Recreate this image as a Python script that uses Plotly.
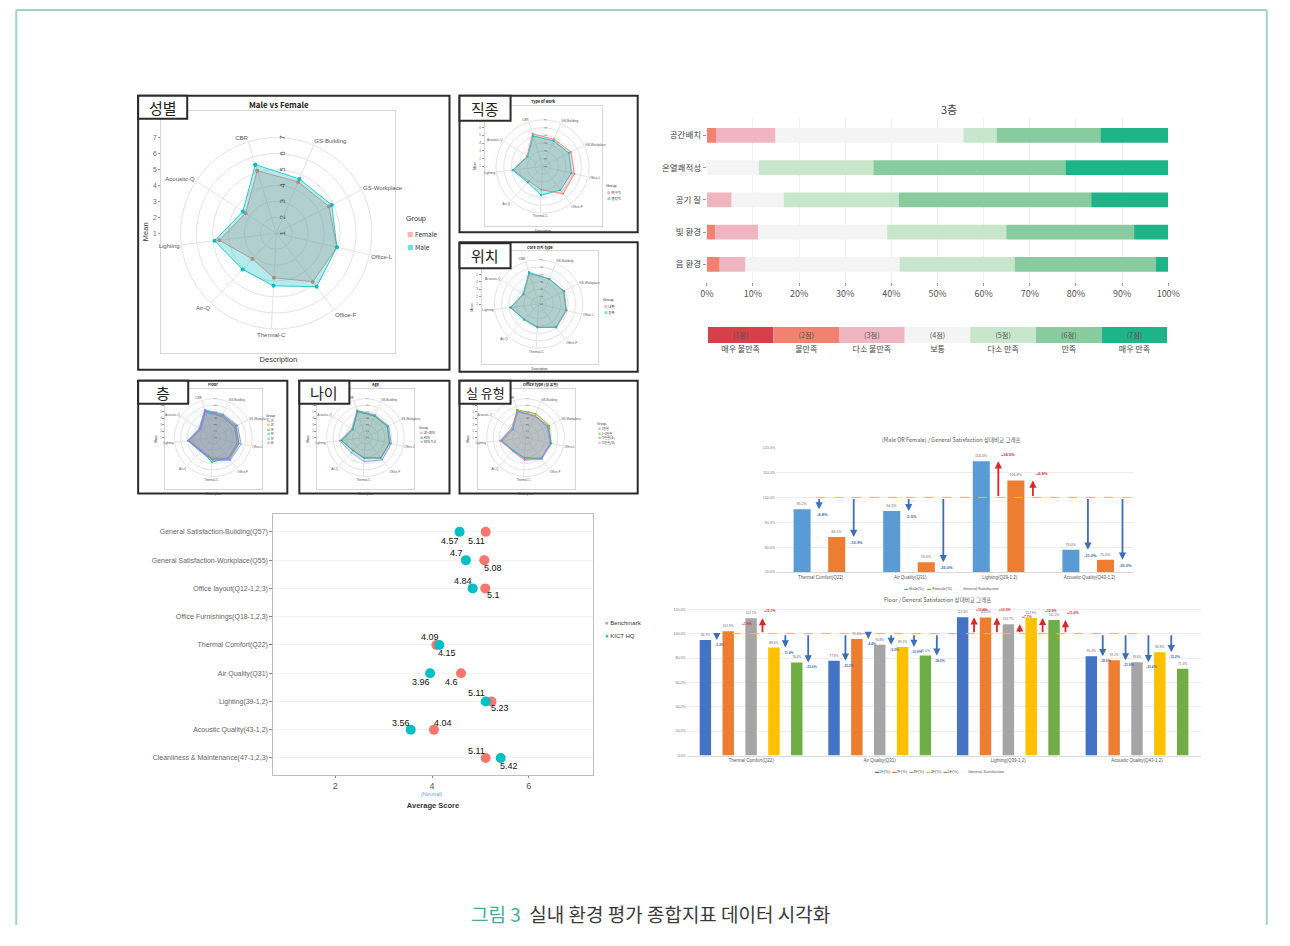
import numpy as np
import plotly.graph_objects as go

# the page body keeps an 8px margin; the figure sits at (8, 8).
# The photographed page comes out slightly compressed horizontally, so x positions are pre-compensated.
OFF = 8
FW, FH = 1272, 920
SX, AX = 0.984, 7.1


def X(px):
    return ((px - AX) / SX - OFF) / FW


def Y(py):
    return 1 - (py - OFF) / FH


FONT = "Liberation Sans, Noto Sans CJK KR, sans-serif"
KFONT = "Noto Sans CJK KR, Liberation Sans, sans-serif"

# ---------------- data ----------------
stack_title = "3층"
stack_cats = ["공간배치", "온열쾌적성", "공기 질", "빛 환경", "음 환경"]
score_labels = ["(1점)", "(2점)", "(3점)", "(4점)", "(5점)", "(6점)", "(7점)"]
score_desc = ["매우 불만족", "불만족", "다소 불만족", "보통", "다소 만족", "만족", "매우 만족"]
pct_1 = [0.0, 0.0, 0.0, 0.0, 0.0]
pct_2 = [2.0, 0.0, 0.0, 1.8, 2.8]
pct_3 = [12.9, 0.0, 5.4, 9.3, 5.6]
pct_4 = [40.7, 11.3, 11.3, 28.0, 33.4]
pct_5 = [7.2, 24.8, 24.9, 25.8, 24.9]
pct_6 = [22.5, 41.6, 41.7, 27.7, 30.6]
pct_7 = [14.7, 22.3, 16.7, 7.4, 2.7]
pct_ticks = [0, 10, 20, 30, 40, 50, 60, 70, 80, 90, 100]

dot_cats = ["General Satisfaction-Building(Q57)", "General Satisfaction-Workplace(Q55)",
            "Office layout(Q12-1,2,3)", "Office Furnishings(Q18-1,2,3)", "Thermal Comfort(Q22)",
            "Air Quality(Q31)", "Lighting(39-1,2)", "Acoustic Quality(43-1,2)",
            "Cleanliness & Maintenance(47-1,2,3)"]
dot_series = ["Benchmark", "KICT HQ"]
dot_bench = [5.11, 5.08, 5.1, None, 4.09, 4.6, 5.23, 4.04, 5.11]
dot_kict = [4.57, 4.7, 4.84, None, 4.15, 3.96, 5.11, 3.56, 5.42]
dot_ticks = [2, 4, 6]
neutral_score = 4

mf_title = "(Male OR Female) / General Satisfaction 상대비교 그래프"
mf_cats = ["Thermal Comfort(Q22)", "Air Quality(Q31)", "Lighting(Q29-1,2)", "Acoustic Quality(Q43-1,2)"]
mf_names = ["Male(%)", "Female(%)"]
mf_male = [95.2, 94.5, 114.5, 79.0]
mf_female = [84.1, 74.0, 106.8, 75.0]
general_satisfaction = 100.0
gs_name = "General Satisfaction"

fl_title = "Floor / General Satisfaction 상대비교 그래프"
fl_cats = ["Thermal Comfort(Q22)", "Air Quality(Q31)", "Lighting(Q39-1,2)", "Acoustic Quality(Q43-1,2)"]
fl_names = ["1F(%)", "2F(%)", "3F(%)", "4F(%)", "5F(%)"]
fl_1f = [94.7, 77.8, 113.4, 81.4]
fl_2f = [101.9, 95.6, 113.3, 78.1]
fl_3f = [112.7, 90.8, 107.7, 76.6]
fl_4f = [88.6, 89.1, 112.9, 84.8]
fl_5f = [76.4, 82.0, 111.2, 71.3]
fl_arrow_shown = [[True, True, True, True], [True, True, True, True], [True, True, True, True],
                  [True, True, True, True], [True, True, True, False]]

radar_cats = ["CBR", "GS-Building", "GS-Workplace", "Office-L", "Office-F",
              "Thermal-C", "Air-Q", "Lighting", "Acoustic-Q"]
radar_ticks = [1, 2, 3, 4, 5, 6, 7]
sex_groups = ["Female", "Male"]
sex_female = [5.1, 4.5, 4.7, 4.9, 4.8, 3.8, 3.2, 4.6, 3.3]
sex_male = [5.5, 4.7, 4.9, 4.9, 5.2, 4.3, 4.1, 4.9, 3.5]
work_groups = ["연구직", "행정직"]
work_a = [5.4, 4.8, 5.1, 5.2, 5.4, 4.0, 3.6, 4.8, 3.4]
work_b = [5.1, 4.6, 4.8, 4.8, 4.8, 4.7, 3.8, 4.9, 3.3]
loc_groups = ["내측", "창측"]
loc_a = [5.3, 4.7, 4.9, 4.9, 5.0, 4.1, 3.8, 4.9, 3.4]
loc_b = [5.5, 4.7, 4.8, 4.8, 4.9, 4.2, 3.9, 4.8, 3.5]
flr_groups = ["1F", "2F", "3F", "4F", "5F", "6F"]
flr_1 = [5.2, 4.6, 4.8, 4.9, 5.0, 4.2, 3.7, 4.8, 3.4]
flr_2 = [5.4, 4.8, 5.0, 5.1, 5.2, 4.3, 3.9, 4.9, 3.5]
flr_3 = [5.1, 4.5, 4.7, 4.8, 4.9, 4.8, 3.8, 4.7, 3.3]
flr_4 = [5.3, 4.7, 4.9, 5.0, 5.1, 4.4, 3.8, 4.8, 3.4]
flr_5 = [5.5, 4.9, 5.2, 5.4, 5.4, 4.5, 3.9, 5.0, 3.6]
flr_6 = [5.0, 4.6, 4.8, 4.9, 5.0, 4.1, 3.6, 4.7, 3.3]
age_groups = ["20~30대", "40대", "50대 이상"]
age_1 = [5.3, 4.7, 4.9, 4.9, 5.0, 4.1, 3.7, 4.8, 3.4]
age_2 = [5.2, 4.6, 4.8, 4.8, 4.9, 4.2, 3.8, 4.7, 3.3]
age_3 = [5.4, 4.8, 5.0, 5.1, 5.3, 4.7, 4.2, 5.0, 3.5]
room_groups = ["1인실", "2~3인실", "다인실(소)", "다인실(대)"]
room_1 = [5.3, 4.7, 4.9, 4.9, 5.0, 4.4, 3.8, 5.0, 3.6]
room_2 = [5.5, 5.0, 5.1, 5.0, 5.1, 4.2, 3.8, 4.8, 3.4]
room_3 = [5.2, 4.6, 4.8, 5.1, 5.0, 4.1, 3.7, 4.7, 3.3]
room_4 = [5.1, 4.6, 4.7, 4.8, 5.2, 4.5, 3.9, 4.9, 3.5]

caption_tag = "그림 3"
caption_text = "실내 환경 평가 종합지표 데이터 시각화"

# ---------------- figure ----------------
fig = go.Figure()
annotations = []
shapes = []


def ann(**kw):
    d = dict(xref="paper", yref="paper", showarrow=False, xanchor="center", yanchor="middle")
    d.update(kw)
    annotations.append(d)


def rgba(hexc, a):
    h = hexc.lstrip("#")
    r, g, b = int(h[0:2], 16), int(h[2:4], 16), int(h[4:6], 16)
    return f"rgba({r},{g},{b},{a})"


# page card border (kept inside the figure area)
xl, xr = max(X(6.5), 0.001), min(X(1283), 0.999)
for x0, y0, x1, y1 in [(xl, 9, xr, 9), (xl, 9, xl, 927), (xr, 9, xr, 927)]:
    shapes.append(dict(type="line", xref="paper", yref="paper", x0=x0, x1=x1, y0=Y(y0), y1=Y(y1),
                       line=dict(color="#9FD3C6", width=2), layer="below"))

# ---- stacked 100% bar (3층) ----
stack_colors = ["#D6404A", "#F2826F", "#EFB6C1", "#F4F4F4", "#C8E6CB", "#88CB9F", "#1FB487"]
pcts = [pct_1, pct_2, pct_3, pct_4, pct_5, pct_6, pct_7]
base = np.zeros(len(stack_cats))
for vals, col, lab in zip(pcts, stack_colors, score_labels):
    fig.add_trace(go.Bar(y=stack_cats, x=vals, base=base.tolist(), orientation="h", width=0.46, offset=-0.23,
                         marker=dict(color=col, line=dict(width=0)), xaxis="x", yaxis="y",
                         hoverinfo="skip", name=lab))
    base = base + np.array(vals)
ann(text=stack_title, x=X(948), y=Y(108), font=dict(size=11, color="#444", family=KFONT))

# legend strip
fig.add_trace(go.Bar(x=score_desc, y=[1] * 7, width=1, offset=-0.5, marker=dict(color=stack_colors, line=dict(width=0)),
                     text=score_labels, textposition="inside", insidetextanchor="middle",
                     textfont=dict(size=8, color="#555", family=KFONT), xaxis="x2", yaxis="y2", hoverinfo="skip"))

# ---- dot plot ----
dot_colors = ["#F8766D", "#00BFC4"]
# label offsets in pixels (dx, dy down-positive), repel-like placement
dot_off_b = [(-9, 9), (9, 8), (8, 7), (0, 0), (-6, -8), (-10, 9), (8, 7), (9, -7), (-9, -7)]
dot_off_k = [(-10, 9), (-9, -7), (-10, -7), (0, 0), (8, 8), (-9, 9), (-9, -8), (-10, -7), (8, 8)]
for vals, col, nm in [(dot_bench, dot_colors[0], dot_series[0]), (dot_kict, dot_colors[1], dot_series[1])]:
    fig.add_trace(go.Scatter(x=vals, y=dot_cats, mode="markers", name=nm,
                             marker=dict(size=10, color=col),
                             xaxis="x3", yaxis="y3", hoverinfo="skip", cliponaxis=False))
for vals, offs in [(dot_bench, dot_off_b), (dot_kict, dot_off_k)]:
    for cat, v, (dx, dy) in zip(dot_cats, vals, offs):
        if v is None:
            continue
        annotations.append(dict(x=v, y=cat, xref="x3", yref="y3", text=str(v), showarrow=False,
                                xanchor="center", yanchor="middle", xshift=dx, yshift=-dy,
                                font=dict(size=9, color="#111", family=FONT)))
annotations.append(dict(text="(Neutral)", x=neutral_score, y=Y(796), xref="x3", yref="paper", showarrow=False,
                        xanchor="center", yanchor="middle", font=dict(size=5.5, color="#6FA8DC", family=FONT)))
for i, (nm, col) in enumerate(zip(dot_series, dot_colors)):
    ann(text=f"<span style='color:{col}'>●</span> {nm}", x=X(602), y=Y(624 + 13 * i), xanchor="left",
        font=dict(size=6, color="#333", family=FONT))

# ---- Male / Female bar chart ----
mf_colors = ["#5B9BD5", "#ED7D31"]
mf_centers = [-0.207, 0.179]
mf_w = 0.19
xi = list(range(len(mf_cats)))
for vals, col, c, nm in zip([mf_male, mf_female], mf_colors, mf_centers, mf_names):
    fig.add_trace(go.Bar(x=xi, y=vals, width=mf_w, offset=c - mf_w / 2, marker=dict(color=col, line=dict(width=0)),
                         texttemplate="%{y:.1f}%", textposition="outside", cliponaxis=False,
                         textfont=dict(size=3.6, color="#666", family=FONT), name=nm,
                         xaxis="x4", yaxis="y4", hoverinfo="skip"))
    for i, v in enumerate(vals):
        xa = i + c + 0.19
        d = v - general_satisfaction
        ac = "#E0262B" if d > 0 else "#3E6EB8"
        annotations.append(dict(x=xa, y=v, ax=xa, ay=general_satisfaction, xref="x4", yref="y4", axref="x4",
                                ayref="y4", showarrow=True, arrowhead=2, arrowsize=0.8, arrowwidth=1.8,
                                arrowcolor=ac, text="", standoff=0, startstandoff=0))
        annotations.append(dict(x=xa, y=v, xref="x4", yref="y4", showarrow=False,
                                text=f"<b>{d:+.1f}%</b>", font=dict(size=4, color=ac, family=FONT),
                                yanchor="top" if d < 0 else "bottom", xanchor="left" if d > 0 else "center",
                                yshift=-1 if d < 0 else 2, xshift=3 if d < 0 else 1))
fig.add_trace(go.Scatter(x=[-0.05, 3.5], y=[general_satisfaction] * 2, mode="lines", name=gs_name,
                         line=dict(color="#FFC000", width=1, dash="dash"), xaxis="x4", yaxis="y4",
                         hoverinfo="skip"))
ann(text=mf_title, x=X(950), y=Y(440), font=dict(size=5.5, color="#555", family=KFONT))
leg_txt = "   ".join([f"<span style='color:{c}'>▬</span> {n}" for n, c in zip(mf_names, mf_colors)])
leg_txt += f"   <span style='color:#FFC000'>- - -</span> {gs_name}"
ann(text=leg_txt, x=X(950), y=Y(589), font=dict(size=4, color="#555", family=FONT))

# ---- Floor bar chart ----
fl_colors = ["#4472C4", "#ED7D31", "#A5A5A5", "#FFC000", "#70AD47"]
fl_series = [fl_1f, fl_2f, fl_3f, fl_4f, fl_5f]
slot = 0.1776
bw = 0.0888
for j, (vals, col, nm) in enumerate(zip(fl_series, fl_colors, fl_names)):
    c = -0.444 + slot * (j + 0.5)
    fig.add_trace(go.Bar(x=xi, y=vals, width=bw, offset=c - bw / 2, marker=dict(color=col, line=dict(width=0)),
                         texttemplate="%{y:.1f}%", textposition="outside", cliponaxis=False,
                         textfont=dict(size=3.2, color="#666", family=FONT), name=nm,
                         xaxis="x5", yaxis="y5", hoverinfo="skip"))
    for i, v in enumerate(vals):
        if not fl_arrow_shown[j][i]:
            continue
        xa = i + c + slot / 2
        d = v - general_satisfaction
        ac = "#E0262B" if d > 0 else "#3E6EB8"
        annotations.append(dict(x=xa, y=v, ax=xa, ay=general_satisfaction, xref="x5", yref="y5", axref="x5",
                                ayref="y5", showarrow=True, arrowhead=2, arrowsize=0.8, arrowwidth=1.8,
                                arrowcolor=ac, text="", standoff=0, startstandoff=0))
        annotations.append(dict(x=xa, y=v, xref="x5", yref="y5", showarrow=False,
                                text=f"<b>{d:+.1f}%</b>", font=dict(size=3.4, color=ac, family=FONT),
                                yanchor="top" if d < 0 else "bottom", xanchor="left" if d > 0 else "center",
                                yshift=-1 if d < 0 else 3, xshift=3 if d < 0 else 0))
fig.add_trace(go.Scatter(x=[-0.15, 3.0], y=[general_satisfaction] * 2, mode="lines", name=gs_name,
                         line=dict(color="#FFC000", width=1, dash="dash"), xaxis="x5", yaxis="y5",
                         hoverinfo="skip"))
ann(text=fl_title, x=X(936), y=Y(601), font=dict(size=5.5, color="#555", family=KFONT))
leg_txt = "  ".join([f"<span style='color:{c}'>▬</span>{n}" for n, c in zip(fl_names, fl_colors)])
leg_txt += f"  <span style='color:#FFC000'>- - -</span> {gs_name}"
ann(text=leg_txt, x=X(938), y=Y(773), font=dict(size=4, color="#555", family=FONT))

# ---- radar panels ----
hue2 = ["#F8766D", "#00BFC4"]
hue3 = ["#F8766D", "#00BA38", "#619CFF"]
hue4 = ["#F8766D", "#7CAE00", "#00BFC4", "#C77CFF"]
hue6 = ["#F8766D", "#B79F00", "#00BA38", "#00BFC4", "#619CFF", "#F564E3"]
radar_specs = [
    dict(box=(138, 95, 449, 370), tag="성별", tag_box=(138, 95, 187, 118), tag_size=15,
         title="Male vs Female", title_xy=(279, 104), title_size=8, center=(276, 233), u=16.0, rmax=7.0,
         frame=(161, 110, 395, 353), groups=sex_groups, vals=[sex_female, sex_male], colors=hue2,
         tsz=8, asz=6, axsz=7.5, leg=(404, 219), lsz=6.5, ldy=13, msz=4, alpha=0.3),
    dict(box=(459, 95, 637, 232), tag="직종", tag_box=(459, 95, 510, 120), tag_size=15,
         title="Type of work", title_xy=(543, 101), title_size=3.8, center=(542, 166), u=7.8, rmax=7.0,
         frame=(484, 105, 601, 226), groups=work_groups, vals=[work_a, work_b], colors=hue2,
         tsz=3.5, asz=3.2, axsz=3.2, leg=(603, 186), lsz=3.5, ldy=6, msz=2, alpha=0.3),
    dict(box=(459, 242, 637, 372), tag="위치", tag_box=(459, 243, 510, 268), tag_size=15,
         title="Core 위치 type", title_xy=(540, 247), title_size=3.8, center=(538, 304), u=7.4, rmax=7.0,
         frame=(481, 251, 597, 364), groups=loc_groups, vals=[loc_a, loc_b], colors=hue2,
         tsz=3.5, asz=3.2, axsz=3.2, leg=(600, 300), lsz=3.5, ldy=6, msz=2, alpha=0.3),
    dict(box=(138, 381, 287, 494), tag="층", tag_box=(138, 381, 188, 404), tag_size=15,
         title="Floor", title_xy=(213, 385), title_size=3.8, center=(213, 438), u=6.5, rmax=7.0,
         frame=(165, 389, 262, 490), groups=flr_groups, vals=[flr_1, flr_2, flr_3, flr_4, flr_5, flr_6],
         colors=hue6, tsz=3, asz=3, axsz=3, leg=(264, 416), lsz=3, ldy=4.5, msz=1.5, alpha=0.18),
    dict(box=(299, 381, 449, 494), tag="나이", tag_box=(299, 381, 349, 404), tag_size=15,
         title="Age", title_xy=(375, 385), title_size=3.8, center=(365, 438), u=6.5, rmax=7.0,
         frame=(317, 389, 414, 490), groups=age_groups, vals=[age_1, age_2, age_3], colors=hue3,
         tsz=3, asz=3, axsz=3, leg=(417, 428), lsz=3, ldy=4.5, msz=1.5, alpha=0.22),
    dict(box=(459, 381, 637, 494), tag="실 유형", tag_box=(459, 381, 510, 404), tag_size=13,
         title="Office type (실 유형)", title_xy=(540, 385), title_size=3.8, center=(525, 438), u=6.5,
         rmax=7.0, frame=(477, 389, 574, 490), groups=room_groups, vals=[room_1, room_2, room_3, room_4],
         colors=hue4, tsz=3, asz=3, axsz=3, leg=(594, 424), lsz=3, ldy=4.5, msz=1.5, alpha=0.2),
]

layout_extra = {}
for k, sp in enumerate(radar_specs):
    pkey = "polar" if k == 0 else f"polar{k + 1}"
    n = 6 + k
    cx, cy = sp["center"]
    u = sp["u"]
    R = (sp["rmax"] - 1) * u
    layout_extra[pkey] = dict(
        domain=dict(x=[X(cx - R), X(cx + R)], y=[Y(cy + R), Y(cy - R)]),
        bgcolor="rgba(0,0,0,0)",
        radialaxis=dict(range=[1, sp["rmax"]], tickvals=radar_ticks, showline=False, ticks="",
                        gridcolor="#E4E4E4", gridwidth=0.7, angle=90, tickangle=0,
                        tickfont=dict(size=sp["tsz"], color="#555", family=FONT)),
        angularaxis=dict(rotation=107, direction="clockwise", gridcolor="#E4E4E4", linecolor="#E4E4E4",
                         showline=True, ticks="", tickfont=dict(size=sp["asz"], color="#555", family=FONT)),
    )
    for vals, col, nm in zip(sp["vals"], sp["colors"], sp["groups"]):
        fig.add_trace(go.Scatterpolar(r=vals + vals[:1], theta=radar_cats + radar_cats[:1], fill="toself",
                                      fillcolor=rgba(col, sp["alpha"]), line=dict(color=col, width=0.8),
                                      marker=dict(size=sp["msz"], color=col), mode="lines+markers",
                                      name=nm, subplot=pkey, hoverinfo="skip"))
    # ggplot-like panel frame with Mean axis
    l, t, r, b = sp["frame"]
    layout_extra[f"xaxis{n}"] = dict(domain=[X(l), X(r)], range=[0, 1], showticklabels=False, ticks="",
                                     showgrid=False, zeroline=False, showline=True, mirror=True,
                                     linecolor="#D6D6D6", linewidth=1, anchor=f"y{n}",
                                     title=dict(text="Description", standoff=3,
                                                font=dict(size=sp["axsz"], color="#333", family=FONT)))
    layout_extra[f"yaxis{n}"] = dict(domain=[Y(b), Y(t)], range=[1 + (cy - b) / u, 1 + (cy - t) / u],
                                     tickvals=radar_ticks, ticks="outside", ticklen=2, tickcolor="#999",
                                     tickfont=dict(size=sp["axsz"] * 0.9, color="#666", family=FONT),
                                     showgrid=False, zeroline=False, showline=True, mirror=True,
                                     linecolor="#D6D6D6", linewidth=1, anchor=f"x{n}",
                                     title=dict(text="Mean", standoff=3,
                                                font=dict(size=sp["axsz"], color="#333", family=FONT)))
    fig.add_trace(go.Scatter(x=[None], y=[None], xaxis=f"x{n}", yaxis=f"y{n}", hoverinfo="skip"))
    # title
    ann(text=f"<b>{sp['title']}</b>", x=X(sp["title_xy"][0]), y=Y(sp["title_xy"][1]),
        font=dict(size=sp["title_size"], color="#222", family=KFONT))
    # legend block
    lx, ly = sp["leg"]
    ann(text="Group", x=X(lx), y=Y(ly), xanchor="left", font=dict(size=sp["lsz"] * 1.1, color="#333", family=FONT))
    for i, (nm, col) in enumerate(zip(sp["groups"], sp["colors"])):
        ann(text=f"<span style='color:{rgba(col, 0.55)}'>■</span> {nm}", x=X(lx + 1),
            y=Y(ly + sp["ldy"] * (i + 1.1)), xanchor="left", font=dict(size=sp["lsz"], color="#333", family=KFONT))
    # panel box and tag
    bx0, by0, bx1, by1 = sp["box"]
    shapes.append(dict(type="rect", xref="paper", yref="paper", x0=X(bx0), x1=X(bx1), y0=Y(by1), y1=Y(by0),
                       line=dict(color="#2B2B2B", width=2), fillcolor="rgba(0,0,0,0)", layer="above"))
    tx0, ty0, tx1, ty1 = sp["tag_box"]
    shapes.append(dict(type="rect", xref="paper", yref="paper", x0=X(tx0), x1=X(tx1), y0=Y(ty1), y1=Y(ty0),
                       line=dict(color="#2B2B2B", width=2), fillcolor="white", layer="above"))
    ann(text=sp["tag"], x=X((tx0 + tx1) / 2), y=Y((ty0 + ty1) / 2),
        font=dict(size=sp["tag_size"], color="#222", family=KFONT))

# caption
ann(text=f"<span style='color:#3FAE98'>{caption_tag}</span>  {caption_text}", x=X(650), y=Y(915),
    font=dict(size=19, color="#3A3A3A", family=KFONT))

fig.update_layout(
    width=FW, height=FH, margin=dict(l=0, r=0, t=0, b=0, pad=0),
    paper_bgcolor="white", plot_bgcolor="rgba(0,0,0,0)", showlegend=False,
    barmode="group", font=dict(family=FONT),
    xaxis=dict(domain=[X(706), X(1167)], range=[0, 100], tickvals=pct_ticks,
               ticktext=[f"{v}%" for v in pct_ticks], ticks="outside", ticklen=3, tickcolor="#999",
               tickfont=dict(size=9, color="#555", family=KFONT), showgrid=True, gridcolor="#EFEFEF",
               zeroline=False, showline=False, anchor="y"),
    yaxis=dict(domain=[Y(282), Y(117)], range=[4.55, -0.55], ticks="outside", ticklen=3, tickcolor="#999",
               tickfont=dict(size=8.5, color="#444", family=KFONT), showgrid=False, zeroline=False,
               anchor="x"),
    xaxis2=dict(domain=[X(707), X(1166)], anchor="y2", ticks="", showgrid=False, showline=False,
                zeroline=False, tickfont=dict(size=8, color="#444", family=KFONT)),
    yaxis2=dict(domain=[Y(343), Y(327)], range=[0, 1], visible=False, anchor="x2"),
    xaxis3=dict(domain=[X(273), X(592)], range=[0.72, 7.32], tickvals=dot_ticks, ticks="outside", ticklen=2,
                tickcolor="#888", tickfont=dict(size=9, color="#555", family=FONT), showgrid=False,
                zeroline=False, showline=True, mirror=True, linecolor="#BDBDBD", anchor="y3",
                title=dict(text="<b>Average Score</b>", standoff=12,
                           font=dict(size=7.5, color="#333", family=FONT))),
    yaxis3=dict(domain=[Y(777), Y(515)], type="category", categoryorder="array", categoryarray=dot_cats,
                range=[8.62, -0.62], ticks="outside", ticklen=3, tickcolor="#888",
                tickfont=dict(size=7, color="#666", family=FONT), showgrid=True, gridcolor="#F3F3F3",
                zeroline=False, showline=True, mirror=True, linecolor="#BDBDBD", anchor="x3"),
    xaxis4=dict(domain=[X(775), X(1133)], range=[-0.5, 3.5], tickvals=xi, ticktext=mf_cats, ticks="",
                tickfont=dict(size=4.5, color="#555", family=FONT), showgrid=False, zeroline=False,
                showline=True, linecolor="#D9D9D9", anchor="y4"),
    yaxis4=dict(domain=[Y(573), Y(447)], range=[70, 120.4], tickvals=[70, 80, 90, 100, 110, 120],
                ticktext=[f"{v:.1f}%" for v in [70, 80, 90, 100, 110, 120]],
                tickfont=dict(size=3.6, color="#777", family=FONT), showgrid=True, gridcolor="#EDEDED",
                zeroline=False, anchor="x4"),
    xaxis5=dict(domain=[X(686), X(1200)], range=[-0.5, 3.5], tickvals=xi, ticktext=fl_cats, ticks="",
                tickfont=dict(size=4.5, color="#555", family=FONT), showgrid=False, zeroline=False,
                showline=True, linecolor="#D9D9D9", anchor="y5"),
    yaxis5=dict(domain=[Y(757), Y(609)], range=[0, 121], tickvals=[0, 20, 40, 60, 80, 100, 120],
                ticktext=[f"{v:.1f}%" for v in [0, 20, 40, 60, 80, 100, 120]],
                tickfont=dict(size=3.6, color="#777", family=FONT), showgrid=True, gridcolor="#EDEDED",
                zeroline=False, anchor="x5"),
    annotations=annotations, shapes=shapes,
    **layout_extra,
)

fig.write_html("out.html", config={"displayModeBar": False})
